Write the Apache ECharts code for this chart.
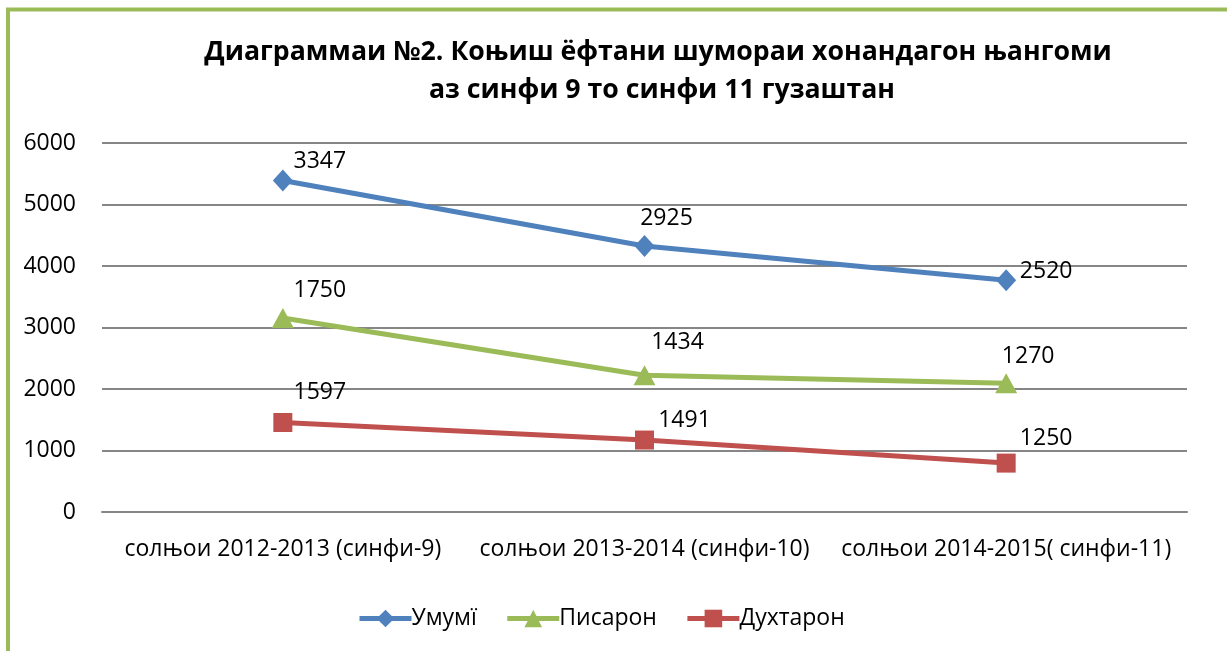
<!DOCTYPE html>
<html>
<head>
<meta charset="utf-8">
<script src="https://cdn.jsdelivr.net/npm/echarts@6/dist/echarts.min.js"></script>
<style>
html,body{margin:0;padding:0;background:#fff;}
#chart{width:1227px;height:651px;}
</style>
</head>
<body>
<div id="chart"></div>
<script>
// Data
const categories = ['солњои 2012-2013 (синфи-9)', 'солњои 2013-2014 (синфи-10)', 'солњои 2014-2015( синфи-11)'];
const seriesNames = ['Умумї', 'Писарон', 'Духтарон'];
// plotted positions (as drawn)
const umumiValues = [5390, 4325, 3770];
const pisaronValues = [3155, 2225, 2095];
const dukhtaronValues = [1455, 1170, 795];
// data labels shown next to each point
const umumiLabels = ['3347', '2925', '2520'];
const pisaronLabels = ['1750', '1434', '1270'];
const dukhtaronLabels = ['1597', '1491', '1250'];
const yTicks = [0, 1000, 2000, 3000, 4000, 5000, 6000];

const FONT = 'Open Sans';
const colors = ['#4F81BD', '#9BBB59', '#C0504D'];
const symbols = ['diamond', 'triangle', 'rect'];
const symbolSizes = [[20, 22], [22, 20], [19, 19]];
const labelOffsets = [
  [[37, -19], [22, -28], [40, -9]],
  [[37, -28], [33, -33], [22, -27]],
  [[37, -30], [40, -20], [40, -25]]
];
const values = [umumiValues, pisaronValues, dukhtaronValues];
const labels = [umumiLabels, pisaronLabels, dukhtaronLabels];

const chart = echarts.init(document.getElementById('chart'), null, {renderer: 'canvas'});

const series = seriesNames.map((name, si) => ({
  name: name,
  type: 'line',
  data: values[si].map((v, i) => ({
    value: v,
    label: {
      show: true,
      position: 'inside',
      offset: labelOffsets[si][i],
      formatter: labels[si][i],
      color: '#000',
      fontFamily: FONT,
      fontSize: 23
    }
  })),
  symbol: symbols[si],
  symbolSize: symbolSizes[si],
  lineStyle: {color: colors[si], width: 5},
  itemStyle: {color: colors[si]},
  emphasis: {disabled: true},
  z: 10 - si
}));

chart.setOption({
  animation: false,
  backgroundColor: '#fff',
  graphic: [
    {
      type: 'rect',
      shape: {x: 8, y: 9.5, width: 1400, height: 900},
      style: {fill: 'none', stroke: '#9BBB59', lineWidth: 4},
      z: 100
    },
    {
      type: 'text',
      x: 658, y: 52,
      style: {
        text: 'Диаграммаи №2. Коњиш ёфтани шумораи хонандагон њангоми',
        font: 'bold 26.7px "Open Sans"',
        fill: '#000',
        textAlign: 'center',
        textVerticalAlign: 'middle'
      }
    },
    {
      type: 'text',
      x: 662, y: 90,
      style: {
        text: 'аз синфи 9 то синфи 11 гузаштан',
        font: 'bold 26.7px "Open Sans"',
        fill: '#000',
        textAlign: 'center',
        textVerticalAlign: 'middle'
      }
    }
  ],
  legend: {
    data: seriesNames,
    bottom: 16,
    left: 352,
    itemWidth: 52,
    itemHeight: 22,
    itemGap: 28,
    lineStyle: {width: 5},
    textStyle: {fontFamily: FONT, fontSize: 23, color: '#000', padding: [0, 0, 0, -5]},
    selectedMode: false
  },
  grid: {left: 102, right: 40, top: 143, bottom: 139, containLabel: false},
  xAxis: {
    type: 'category',
    data: categories,
    boundaryGap: true,
    axisLine: {show: true, lineStyle: {color: '#868686', width: 2}},
    axisTick: {show: false},
    axisLabel: {fontFamily: FONT, fontSize: 23, color: '#000', margin: 26, interval: 0}
  },
  yAxis: {
    type: 'value',
    min: yTicks[0],
    max: yTicks[yTicks.length - 1],
    interval: 1000,
    axisLine: {show: false},
    axisTick: {show: false},
    splitLine: {lineStyle: {color: '#868686', width: 2}},
    axisLabel: {fontFamily: FONT, fontSize: 23, color: '#000', margin: 26, formatter: (v) => String(v)}
  },
  series: series
});
</script>
</body>
</html>
